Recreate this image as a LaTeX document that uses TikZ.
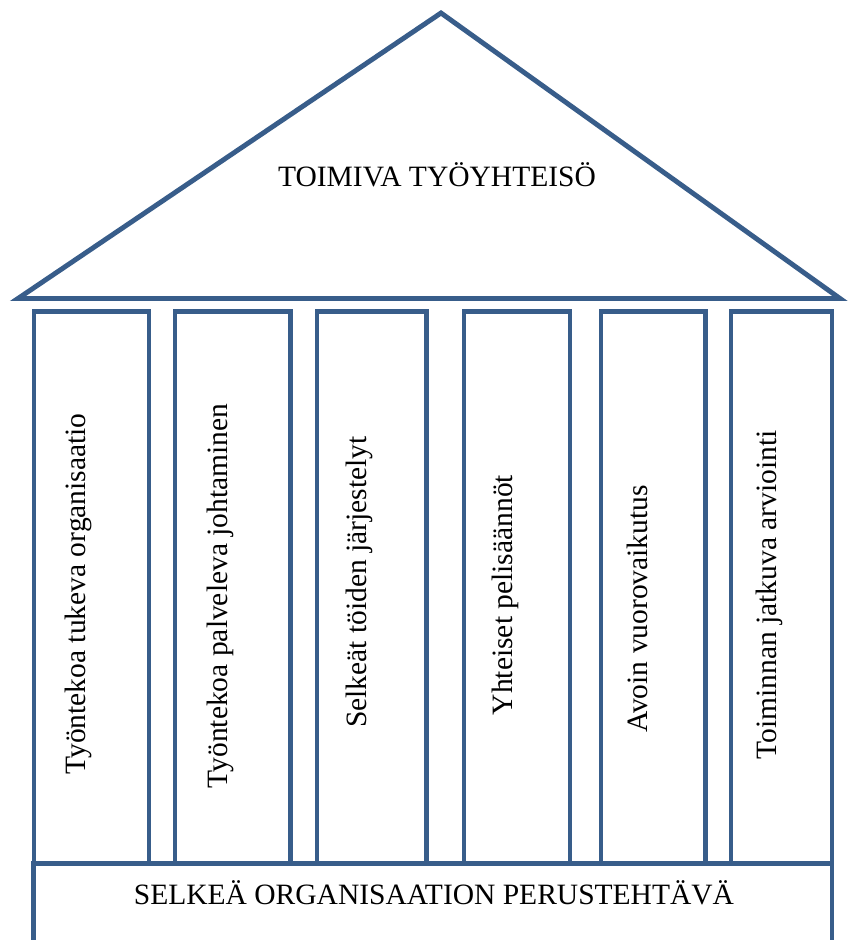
\documentclass[tikz,border=0pt]{standalone}
\usepackage{fontspec}
\setmainfont{Liberation Serif}
\definecolor{housblue}{RGB}{56,93,138}
\begin{document}
\begin{tikzpicture}
[x=0.02cm,y=-0.02cm,line join=miter,%
  every node/.style={inner sep=0pt,outer sep=0pt,font=\fontsize{16.8}{20}\selectfont},%
  roof/.style={draw=housblue,line width=2.8pt},%
  pillar/.style={rectangle,draw=housblue,line width=2.5pt,minimum width=#1*0.02cm,minimum height=551.8*0.02cm},%
  vtext/.style={rotate=90,anchor=base},%
  htext/.style={anchor=base}]
\useasboundingbox (0,0) rectangle (850,940);
% roof
\coordinate (eaveL) at (18,298.5);
\coordinate (ridge) at (441,13);
\coordinate (eaveR) at (840,298.5);
\draw[roof] (eaveL) -- (ridge) -- (eaveR) -- cycle;
\node[htext] (roofText) at (437,186) {TOIMIVA TYÖYHTEISÖ};
% pillars
\node[pillar=115]   (p1) at (91.5,587.4) {};
\node[pillar=115.5] (p2) at (232.75,587.4) {};
\node[pillar=109.5] (p3) at (371.75,587.4) {};
\node[pillar=106]   (p4) at (517,587.4) {};
\node[pillar=104.5] (p5) at (653.25,587.4) {};
\node[pillar=101]   (p6) at (781.5,587.4) {};
\node[vtext] (t1) at (85.5,594) {Työntekoa tukeva organisaatio};
\node[vtext] (t2) at (227,596) {Työntekoa palveleva johtaminen};
\node[vtext] (t3) at (366,582) {Selkeät töiden järjestelyt};
\node[vtext] (t4) at (512,595) {Yhteiset pelisäännöt};
\node[vtext] (t5) at (647,609) {Avoin vuorovaikutus};
\node[vtext] (t6) at (776,595) {Toiminnan jatkuva arviointi};
% base
\coordinate (baseL) at (33.7,863.3);
\coordinate (baseR) at (832,863.3);
\draw[roof,line width=2.6pt] (33.7,950) -- (baseL) -- (baseR) -- (832,950);
\node[htext] (baseText) at (434,904) {SELKEÄ ORGANISAATION PERUSTEHTÄVÄ};
\end{tikzpicture}
\end{document}
